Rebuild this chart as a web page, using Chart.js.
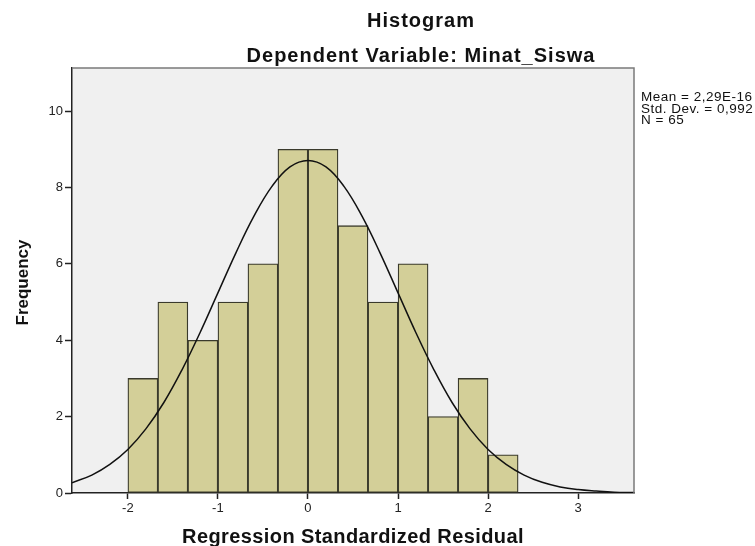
<!DOCTYPE html>
<html>
<head>
<meta charset="utf-8">
<script src="https://cdn.jsdelivr.net/npm/chart.js@4.4.1/dist/chart.umd.min.js"></script>
<style>
    html, body { margin: 0; padding: 0; background: #ffffff; }
    #wrap { width: 755px; height: 546px; }
</style>
</head>
<body>
<div id="wrap"><canvas id="chart" width="755" height="546"></canvas></div>
<script>
// Histogram bins (centre of each 1/3-wide bin) and their counts
const binCenters = [-1.833, -1.5, -1.167, -0.833, -0.5, -0.167, 0.167, 0.5, 0.833, 1.167, 1.5, 1.833, 2.167];
const binCounts = [3, 5, 4, 5, 6, 9, 9, 7, 5, 6, 2, 3, 1];

// Normal curve
const curveX = [-2.62, -2.4, -2.2, -2.0, -1.8, -1.6, -1.4, -1.2, -1.0, -0.8, -0.6, -0.4, -0.2, 0,
    0.2, 0.4, 0.6, 0.8, 1.0, 1.2, 1.4, 1.6, 1.8, 2.0, 2.2, 2.4, 2.6, 2.8, 3.0, 3.2, 3.4, 3.62];
const curveY = [0.27, 0.47, 0.75, 1.14, 1.68, 2.37, 3.22, 4.19, 5.24, 6.29, 7.25, 8.03, 8.54, 8.71,
    8.54, 8.03, 7.25, 6.29, 5.24, 4.19, 3.22, 2.37, 1.68, 1.14, 0.75, 0.47, 0.28, 0.16, 0.09, 0.05, 0.02, 0.01];

const xTicks = [-2, -1, 0, 1, 2, 3];
const yTicks = [0, 2, 4, 6, 8, 10];

const statLines = ["Mean = 2,29E-16", "Std. Dev. = 0,992", "N = 65"];
const titleText = "Histogram";
const subtitleText = "Dependent Variable: Minat_Siswa";
const xTitle = "Regression Standardized Residual";
const yTitle = "Frequency";

const FONT = "'Liberation Sans', Arial, sans-serif";

// Plot background, frame and all the text around the axes
const framePlugin = {
    id: "frame",
    beforeDraw(chart) {
        const { ctx, chartArea: a } = chart;
        ctx.save();
        ctx.fillStyle = "#f0f0f0";
        ctx.fillRect(a.left, a.top, a.right - a.left, a.bottom - a.top);
        ctx.restore();
    },
    afterDraw(chart) {
        const { ctx, chartArea: a } = chart;
        ctx.save();
        ctx.strokeStyle = "#7a7a7a";
        ctx.lineWidth = 1.5;
        ctx.beginPath();
        ctx.moveTo(a.left, a.top);
        ctx.lineTo(a.right, a.top);
        ctx.lineTo(a.right, a.bottom);
        ctx.stroke();

        ctx.fillStyle = "#111111";
        ctx.textAlign = "center";
        ctx.textBaseline = "alphabetic";
        ctx.letterSpacing = "1px";
        ctx.font = "bold 20px " + FONT;
        ctx.fillText(titleText, 421, 27);
        ctx.fillText(subtitleText, 421, 62);

        ctx.letterSpacing = "0.4px";
        ctx.fillText(xTitle, (a.left + a.right) / 2, 543);

        ctx.save();
        ctx.letterSpacing = "0px";
        ctx.font = "bold 17px " + FONT;
        ctx.translate(23, (a.top + a.bottom) / 2 + 2);
        ctx.rotate(-Math.PI / 2);
        ctx.textBaseline = "middle";
        ctx.fillText(yTitle, 0, 0);
        ctx.restore();

        ctx.textAlign = "left";
        ctx.textBaseline = "alphabetic";
        ctx.letterSpacing = "0.5px";
        ctx.font = "13.5px " + FONT;
        statLines.forEach(function (line, i) {
            ctx.fillText(line, 641, 101 + i * 11.5);
        });
        ctx.restore();
    },
};

const config = {
    type: "bar",
    data: {
        datasets: [{
            type: "line",
            data: curveX.map((x, i) => ({ x: x, y: curveY[i] })),
            borderColor: "#111111",
            borderWidth: 1.5,
            pointRadius: 0,
            tension: 0.4,
            fill: false,
            order: 0,
        }, {
            type: "bar",
            data: binCenters.map((x, i) => ({ x: x, y: binCounts[i] })),
            backgroundColor: "#d3cf98",
            borderColor: "#3a3a2c",
            borderWidth: 1.3,
            borderSkipped: false,
            barPercentage: 1,
            categoryPercentage: 1,
            order: 1,
        }],
    },
    options: {
        responsive: false,
        animation: false,
        layout: { padding: { left: 0, right: 121, top: 68, bottom: 0 } },
        plugins: {
            legend: { display: false },
            tooltip: { enabled: false },
        },
        scales: {
            x: {
                type: "linear",
                offset: false,
                min: -2.62,
                max: 3.62,
                afterBuildTicks: function (scale) {
                    scale.ticks = xTicks.map((v) => ({ value: v }));
                },
                afterFit: function (scale) {
                    scale.height = 53;
                },
                grid: {
                    offset: false,
                    drawOnChartArea: false,
                    tickLength: 6,
                    tickColor: "#222222",
                    tickWidth: 1.5,
                },
                border: { color: "#222222", width: 1.5 },
                ticks: {
                    color: "#222222",
                    padding: 2,
                    maxRotation: 0,
                    font: { family: FONT, size: 13 },
                },
            },
            y: {
                min: 0,
                max: 11.13,
                afterBuildTicks: function (scale) {
                    scale.ticks = yTicks.map((v) => ({ value: v }));
                },
                afterFit: function (scale) {
                    scale.width = 72;
                },
                grid: {
                    drawOnChartArea: false,
                    tickLength: 7,
                    tickColor: "#222222",
                    tickWidth: 1.5,
                },
                border: { color: "#222222", width: 1.5 },
                ticks: {
                    color: "#222222",
                    padding: 2,
                    font: { family: FONT, size: 13 },
                },
            },
        },
    },
    plugins: [framePlugin],
};

new Chart(document.getElementById("chart").getContext("2d"), config);
</script>
</body>
</html>
